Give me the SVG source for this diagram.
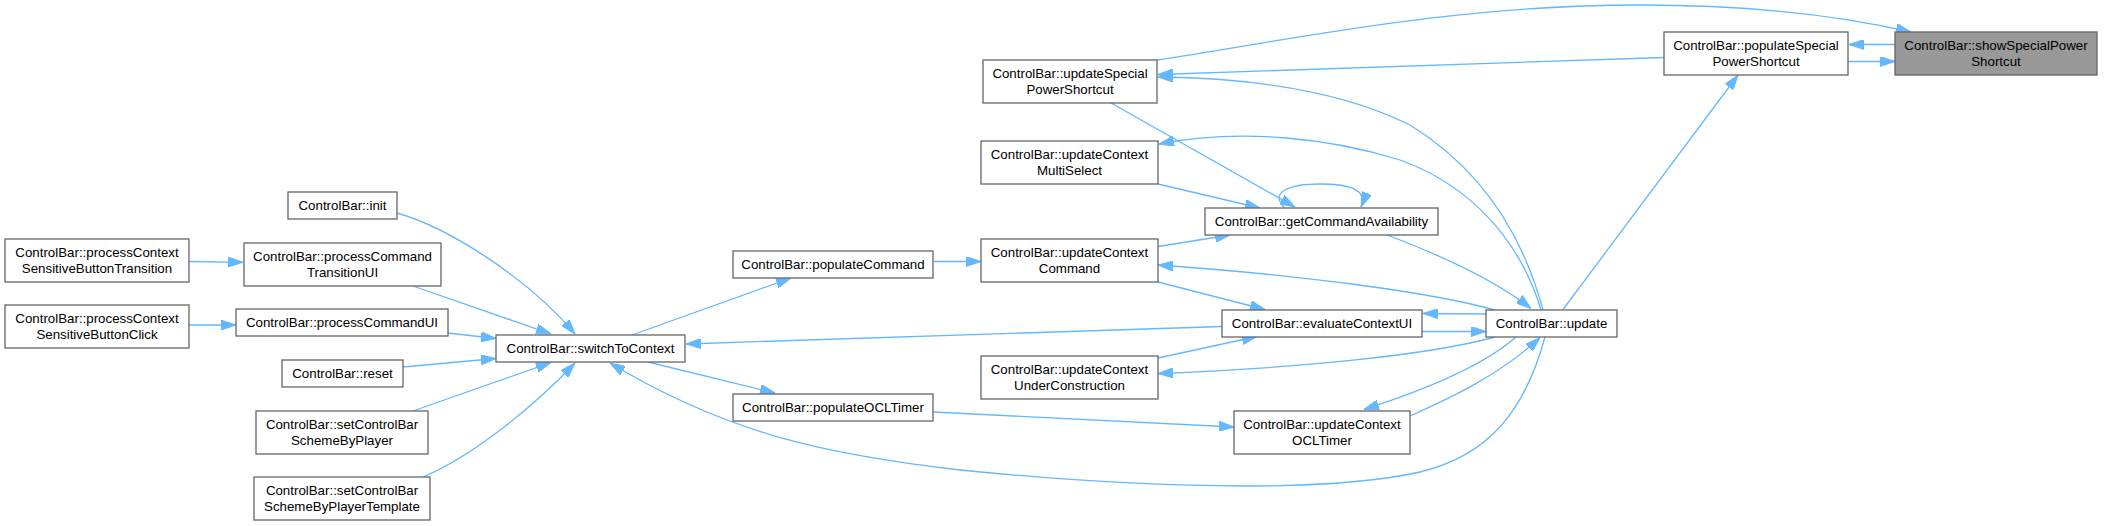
<svg xmlns="http://www.w3.org/2000/svg" width="2104" height="526" viewBox="0 0 2104 526">
<style>
.n rect{fill:#ffffff;stroke:#666666;stroke-width:1.3}
.n.h rect{fill:#999999}
.n text{font-family:"Liberation Sans",Arial,sans-serif;font-size:13.3px;text-anchor:middle;fill:#000000}
.e path{fill:none;stroke:#63b8ff;stroke-width:1.3;marker-end:url(#ah)}
</style>
<defs>
<marker id="ah" markerUnits="userSpaceOnUse" viewBox="0 0 15 10" markerWidth="15" markerHeight="10" refX="15" refY="5" orient="auto">
<path d="M0,0 L15,5 L0,10 z" fill="#63b8ff" stroke="#63b8ff" stroke-width="1"/>
</marker>
</defs>
<rect width="2104" height="526" fill="#ffffff"/>
<g id="edges" class="e">
<path d="M189,261.5 L243,262.3"/>
<path d="M189,325 L236,325"/>
<path d="M397,213 C450,228 530,280 575,334"/>
<path d="M413,286 L551,334"/>
<path d="M448,333 L496,338.5"/>
<path d="M403,367 L496,358.5"/>
<path d="M413,411 L551,362.5"/>
<path d="M423,477 C475,455 535,405 575,363"/>
<path d="M632,335 L791,278"/>
<path d="M648,362 L775,393"/>
<path d="M1222,326.5 L686,344"/>
<path d="M1545,337 C1525,410 1490,455 1420,472 C1340,490 1180,492 960,470 C830,455 730,435 610,363"/>
<path d="M934,261.5 L981,261.5"/>
<path d="M933,412 L1234,427"/>
<path d="M1111,103 L1295,207"/>
<path d="M1158,184 L1260,208"/>
<path d="M1158,246.5 L1230,235"/>
<path d="M1387,235 C1440,255 1495,280 1531,308.5"/>
<path d="M1543,310 C1520,225 1475,165 1410,125 C1340,90 1250,78 1158,77"/>
<path d="M1541,310 C1520,240 1470,185 1400,160 C1330,138 1240,128 1159,144"/>
<path d="M1664,57.5 L1158,74.5"/>
<path d="M1157,60 C1290,40 1450,5 1640,5 C1760,5 1850,18 1911,32"/>
<path d="M1895,44.5 L1849,44.5"/>
<path d="M1848,61.5 L1895,61.5"/>
<path d="M1563,309.5 L1738,75"/>
<path d="M1495,310 C1430,292 1300,275 1158,265"/>
<path d="M1158,282 L1265,309.5"/>
<path d="M1486,314 L1423,313.5"/>
<path d="M1422,331.5 L1486,331.5"/>
<path d="M1158,358 L1257,336.5"/>
<path d="M1495,337 C1430,355 1300,368 1158,373.5"/>
<path d="M1516,337 C1490,360 1440,385 1364,409.5"/>
<path d="M1410,416 C1450,398 1500,375 1540,337.5"/>
<path d="M1285,208 C1268,192 1290,184 1320,184 C1350,184 1368,190 1361,207"/>
</g>
<g id="showSpecialPowerShortcut" class="n h"><rect x="1895" y="32" width="202" height="43"/><text x="1996" y="50">ControlBar::showSpecialPower</text><text x="1996" y="66">Shortcut</text></g>
<g id="populateSpecialPowerShortcut" class="n"><rect x="1664" y="32" width="184" height="43"/><text x="1756" y="50">ControlBar::populateSpecial</text><text x="1756" y="66">PowerShortcut</text></g>
<g id="updateSpecialPowerShortcut" class="n"><rect x="983" y="60" width="174" height="43"/><text x="1070" y="78">ControlBar::updateSpecial</text><text x="1070" y="94">PowerShortcut</text></g>
<g id="updateContextMultiSelect" class="n"><rect x="981" y="141" width="177" height="43"/><text x="1069.5" y="159">ControlBar::updateContext</text><text x="1069.5" y="175">MultiSelect</text></g>
<g id="getCommandAvailability" class="n"><rect x="1205" y="208" width="233" height="27"/><text x="1321.5" y="226">ControlBar::getCommandAvailability</text></g>
<g id="updateContextCommand" class="n"><rect x="981" y="239" width="177" height="43"/><text x="1069.5" y="257">ControlBar::updateContext</text><text x="1069.5" y="273">Command</text></g>
<g id="evaluateContextUI" class="n"><rect x="1222" y="310" width="200" height="27"/><text x="1322" y="328">ControlBar::evaluateContextUI</text></g>
<g id="update" class="n"><rect x="1486" y="310" width="131" height="27"/><text x="1551.5" y="328">ControlBar::update</text></g>
<g id="updateContextUnderConstruction" class="n"><rect x="981" y="356" width="177" height="43"/><text x="1069.5" y="374">ControlBar::updateContext</text><text x="1069.5" y="390">UnderConstruction</text></g>
<g id="updateContextOCLTimer" class="n"><rect x="1234" y="411" width="176" height="43"/><text x="1322" y="429">ControlBar::updateContext</text><text x="1322" y="445">OCLTimer</text></g>
<g id="populateCommand" class="n"><rect x="733" y="251" width="200" height="27"/><text x="833" y="269">ControlBar::populateCommand</text></g>
<g id="populateOCLTimer" class="n"><rect x="733" y="394" width="200" height="27"/><text x="833" y="412">ControlBar::populateOCLTimer</text></g>
<g id="switchToContext" class="n"><rect x="496" y="335" width="189" height="27"/><text x="590.5" y="353">ControlBar::switchToContext</text></g>
<g id="init" class="n"><rect x="288" y="192" width="109" height="27"/><text x="342.5" y="210">ControlBar::init</text></g>
<g id="processCommandTransitionUI" class="n"><rect x="244" y="243" width="197" height="43"/><text x="342.5" y="261">ControlBar::processCommand</text><text x="342.5" y="277">TransitionUI</text></g>
<g id="processCommandUI" class="n"><rect x="236" y="309" width="212" height="27"/><text x="342" y="327">ControlBar::processCommandUI</text></g>
<g id="reset" class="n"><rect x="282" y="360" width="121" height="27"/><text x="342.5" y="378">ControlBar::reset</text></g>
<g id="setControlBarSchemeByPlayer" class="n"><rect x="256" y="411" width="172" height="43"/><text x="342" y="429">ControlBar::setControlBar</text><text x="342" y="445">SchemeByPlayer</text></g>
<g id="setControlBarSchemeByPlayerTemplate" class="n"><rect x="254" y="477" width="176" height="43"/><text x="342" y="495">ControlBar::setControlBar</text><text x="342" y="511">SchemeByPlayerTemplate</text></g>
<g id="processContextSensitiveButtonTransition" class="n"><rect x="5" y="239" width="184" height="43"/><text x="97" y="257">ControlBar::processContext</text><text x="97" y="273">SensitiveButtonTransition</text></g>
<g id="processContextSensitiveButtonClick" class="n"><rect x="5" y="305" width="184" height="43"/><text x="97" y="323">ControlBar::processContext</text><text x="97" y="339">SensitiveButtonClick</text></g>
</svg>
